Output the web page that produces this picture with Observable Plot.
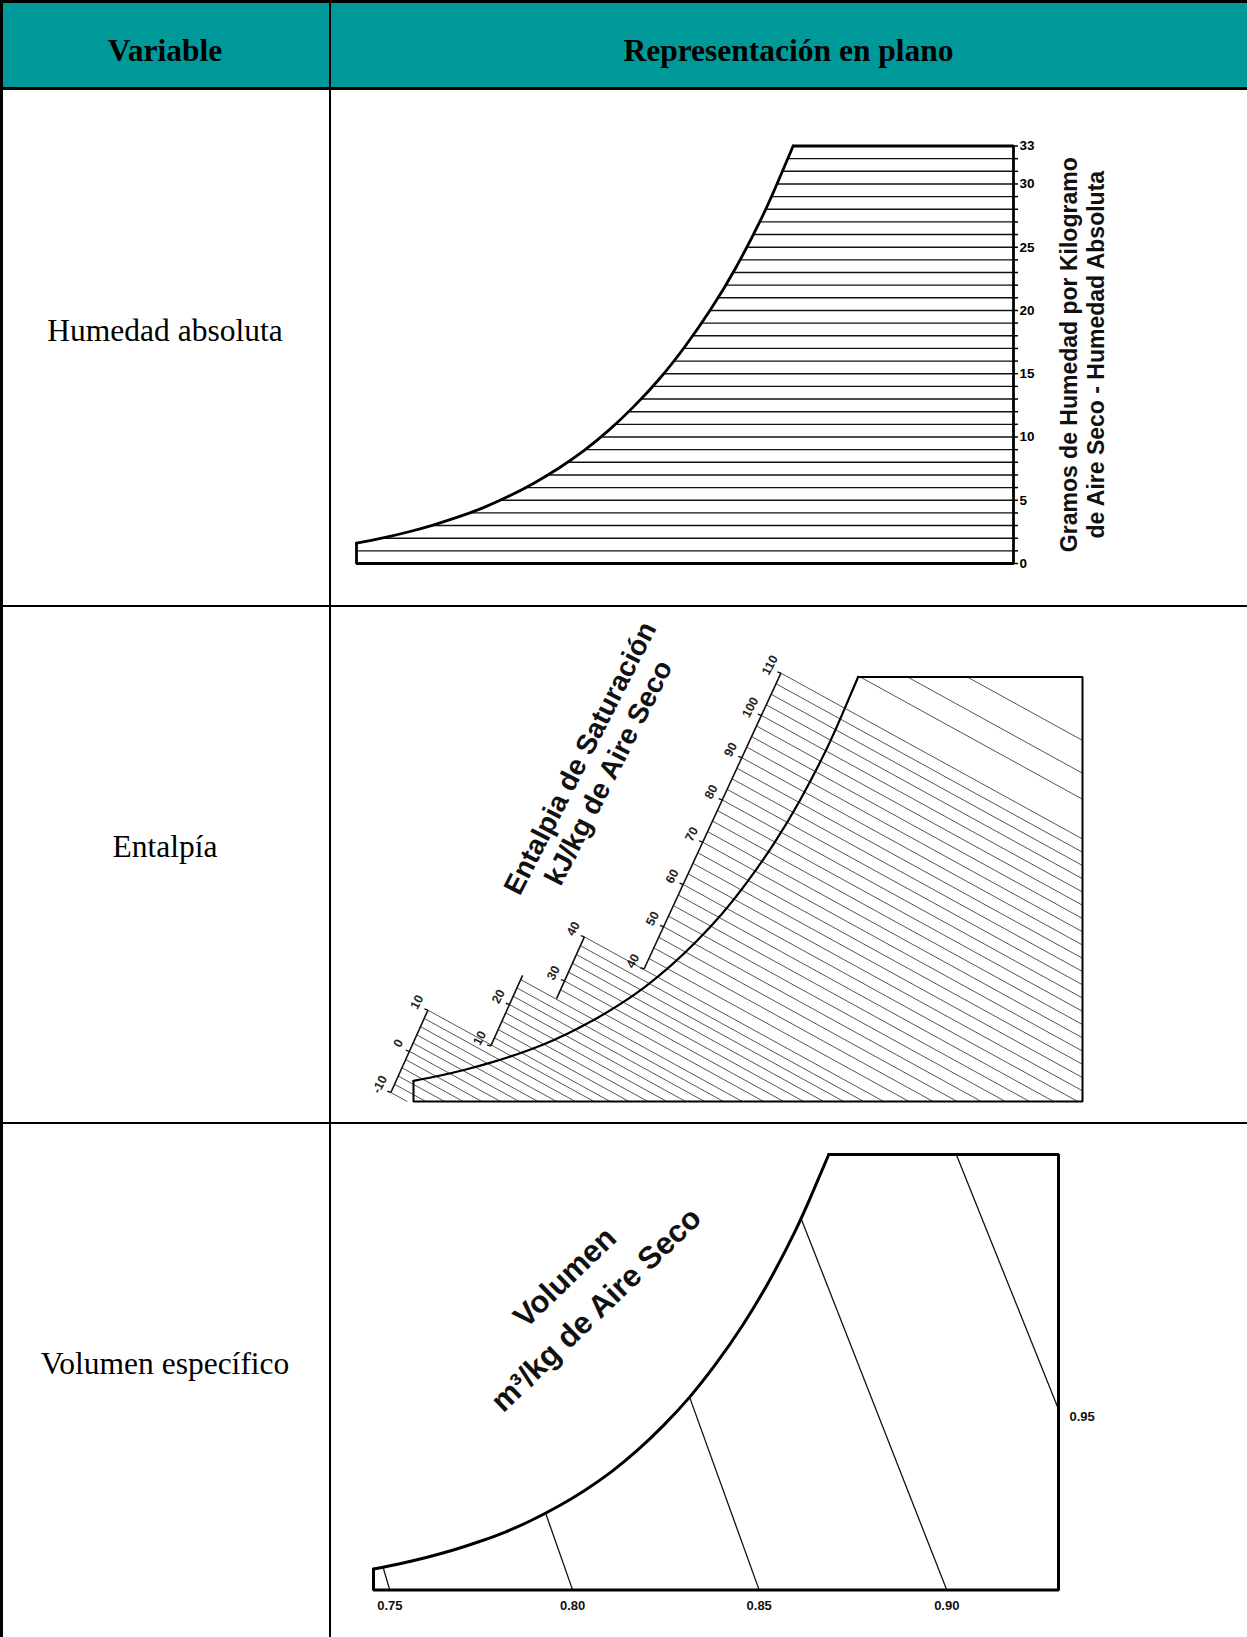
<!DOCTYPE html>
<html>
<head>
<meta charset="utf-8">
<script src="https://cdn.jsdelivr.net/npm/d3@7"></script>
<script src="https://cdn.jsdelivr.net/npm/@observablehq/plot@0.6"></script>
<style>
  html, body { margin: 0; padding: 0; background: #fff; }
  #page { position: relative; width: 1247px; height: 1637px; overflow: hidden; background: #fff; }
  .hdr { position: absolute; left: 0; top: 0; width: 1270px; height: 88px; background: #009999; }
  .hl { position: absolute; left: 0; width: 1270px; height: 2.7px; background: #000; }
  .vl { position: absolute; top: 0; width: 2.7px; height: 1637px; background: #000; }
  .txt { position: absolute; font-family: "Liberation Serif", "Times New Roman", serif; font-size: 31.5px; color: #000; text-align: center; height: 88px; line-height: 88px; white-space: nowrap; }
  .b { font-weight: bold; }
  .chart { position: absolute; left: 332px; width: 915px; }
</style>
</head>
<body>
<div id="page">
  <div class="hdr"></div>
  <div class="hl" style="top:0px"></div>
  <div class="hl" style="top:87px"></div>
  <div class="hl" style="top:604.7px"></div>
  <div class="hl" style="top:1121.5px"></div>
  <div class="vl" style="left:0px"></div>
  <div class="vl" style="left:328.7px"></div>

  <div class="txt b" style="left:0;width:330px;top:7px">Variable</div>
  <div class="txt b" style="left:330px;width:917px;top:7px">Representación en plano</div>
  <div class="txt" style="left:0;width:330px;top:287px">Humedad absoluta</div>
  <div class="txt" style="left:0;width:330px;top:803px">Entalpía</div>
  <div class="txt" style="left:0;width:330px;top:1320px">Volumen específico</div>

  <div class="chart" id="c1" style="top:90px"></div>
  <div class="chart" id="c2" style="top:608px"></div>
  <div class="chart" id="c3" style="top:1125px"></div>
</div>
<script>
// ---------- shared data: saturation curve (dry-bulb °C vs g/kg dry air) ----------
const satT = [-10, -7.5, -5, -2.5, 0, 2.5, 5, 7.5, 10, 12.5, 15, 17.5, 20, 22.5, 25, 27.5, 30, 31.6, 33.2];
const satW = [1.6, 2.0, 2.47, 3.02, 3.66, 4.40, 5.29, 6.33, 7.53, 8.92, 10.56, 12.46, 14.62, 17.15, 20.03, 23.34, 27.18, 30.0, 33.0];
// chart frame outline (left stub, bottom, right, top)
const outT = [-10, -10, 55, 55, 33.2];
const outW = [1.6, 0, 0, 33, 33];
const tDomain = [-10, 55];
const wDomain = [0, 33];

// ---------- chart 1: absolute humidity ----------
const humLines = [1,2,3,4,5,6,7,8,9,10,11,12,13,14,15,16,17,18,19,20,21,22,23,24,25,26,27,28,29,30,31,32];
const humTicks = [0,1,2,3,4,5,6,7,8,9,10,11,12,13,14,15,16,17,18,19,20,21,22,23,24,25,26,27,28,29,30,31,32,33];
const humLabels = [0, 5, 10, 15, 20, 25, 30, 33];
const humTitle = "Gramos de Humedad por Kilogramo\nde Aire Seco - Humedad Absoluta";

// ---------- chart 2: enthalpy ----------
const segH0 = [-10, 10, 26, 40];
const segH1 = [10, 27, 40, 110];
const segT0 = [-12.2, -2.5, 3.9, 12.4];
const segW0 = [0.7, 4.3, 8.0, 10.3];
const segT1 = [-8.6, 0.6, 6.6, 25.7];
const segW1 = [7.1, 9.8, 12.8, 33.3];
const enthSlope = -0.44; // g/kg per °C along an enthalpy line
const enthH = [-10,-8,-6,-4,-2,0,2,4,6,8,10,12,14,16,18,20,22,24,26,28,30,32,34,36,38,40,
  42.5,45,47.5,50,52.5,55,57.5,60,62.5,65,67.5,70,72.5,75,77.5,80,82.5,85,87.5,90,92.5,95,97.5,100,102.5,105,107.5,110];
const enthTopT = [33.4, 38.0, 43.8];
const enthLabelSeg = [0, 0, 0, 1, 1, 2, 2, 3, 3, 3, 3, 3, 3, 3, 3];
const enthLabelH = [-10, 0, 10, 10, 20, 30, 40, 40, 50, 60, 70, 80, 90, 100, 110];
const enthTitle = "Entalpia de Saturación\nkJ/kg de Aire Seco";

// ---------- chart 3: specific volume ----------
const volLabel = ["0.75", "0.80", "0.85", "0.90", "0.95"];
const volT1 = [-9.1, 6.3, 20.0, 30.6, 45.3];
const volW1 = [1.75, 5.9, 14.6, 28.1, 33];
const volT2 = [-8.45, 8.9, 26.6, 44.4, 55];
const volW2 = [0, 0, 0, 0, 13.7];
const volTitle = "Volumen\nm³/kg de Aire Seco";

const FONT = "'Liberation Sans', Arial, sans-serif";
const CURVE = "natural";
const sat = satT.map((t, i) => ({t, w: satW[i]}));
const outline = outT.map((t, i) => ({t, w: outW[i]}));

// ===== chart 1 =====
const c1 = Plot.plot({
  width: 915, height: 514,
  marginLeft: 24, marginRight: 234, marginTop: 55.5, marginBottom: 41,
  x: {domain: tDomain, axis: null},
  y: {domain: wDomain, axis: null},
  style: {fontFamily: FONT, fontWeight: "bold", background: "white"},
  marks: [
    Plot.ruleY(humLines, {x1: tDomain[0], x2: tDomain[1], stroke: "#111", strokeWidth: 1.4}),
    Plot.areaY(sat, {x: "t", y1: "w", y2: wDomain[1], fill: "white", curve: CURVE}),
    Plot.line(sat, {x: "t", y: "w", curve: CURVE, stroke: "#000", strokeWidth: 2.8}),
    Plot.line(outline, {x: "t", y: "w", stroke: "#000", strokeWidth: 2.8, strokeLinejoin: "miter"}),
    Plot.axisY({anchor: "right", label: null, ticks: humTicks, tickSize: 4, tickPadding: 2, strokeWidth: 1.5,
      tickFormat: d => humLabels.includes(d) ? String(d) : "", fontSize: 13.5, fontWeight: "bold", fill: "#000"}),
    Plot.text([humTitle], {text: d => d, frameAnchor: "right", textAnchor: "middle", lineAnchor: "middle",
      dx: 68.5, dy: 0, rotate: -90, fontSize: 23, fontWeight: "bold", lineHeight: 1.18, fill: "#111"})
  ]
});
document.getElementById("c1").appendChild(c1);

// ===== chart 2 =====
function segPoint(i, h) {
  const f = (h - segH0[i]) / (segH1[i] - segH0[i]);
  return [segT0[i] + f * (segT1[i] - segT0[i]), segW0[i] + f * (segW1[i] - segW0[i])];
}
function lineEnd(t, w) {
  const wr = w + enthSlope * (tDomain[1] - t);
  return wr >= 0 ? [tDomain[1], wr] : [t + w / (-enthSlope), 0];
}
const enthLines = enthH.map(h => {
  const i = segH0.findIndex((h0, k) => h >= h0 - 1e-6 && h <= segH1[k] + 1e-6);
  const [t1, w1] = segPoint(i, h);
  const [t2, w2] = lineEnd(t1, w1);
  return {t1, w1, t2, w2};
});
enthTopT.forEach(t => {
  const [t2, w2] = lineEnd(t, wDomain[1]);
  enthLines.push({t1: t, w1: wDomain[1], t2, w2});
});
const segs = segH0.map((h, i) => ({t1: segT0[i], w1: segW0[i], t2: segT1[i], w2: segW1[i]}));
const enthLabels = enthLabelH.map((h, k) => {
  const [t, w] = segPoint(enthLabelSeg[k], h);
  return {t, w, label: String(h)};
});

const c2 = Plot.plot({
  width: 915, height: 513,
  marginLeft: 81, marginRight: 165, marginTop: 68.5, marginBottom: 20,
  x: {domain: tDomain, axis: null},
  y: {domain: wDomain, axis: null},
  style: {fontFamily: FONT, fontWeight: "bold", background: "white"},
  marks: [
    Plot.link(enthLines, {x1: "t1", y1: "w1", x2: "t2", y2: "w2", stroke: "#555", strokeWidth: 1}),
    Plot.link(segs, {x1: "t1", y1: "w1", x2: "t2", y2: "w2", stroke: "#111", strokeWidth: 1.6}),
    Plot.link(enthLabels, {x1: "t", y1: "w", x2: d => d.t - 0.35, y2: d => d.w + 0.1, stroke: "#111", strokeWidth: 1.4}),
    Plot.text(enthLabels, {x: "t", y: "w", text: "label", rotate: -62, dx: -11, dy: -8,
      fontSize: 12.5, fontWeight: "bold", fill: "#222"}),
    Plot.line(sat, {x: "t", y: "w", curve: CURVE, stroke: "#000", strokeWidth: 2.2}),
    Plot.line(outline, {x: "t", y: "w", stroke: "#000", strokeWidth: 2, strokeLinejoin: "miter"}),
    Plot.text([enthTitle], {text: d => d, frameAnchor: "top-left", textAnchor: "middle", lineAnchor: "middle",
      dx: 180, dy: 88, rotate: -63, fontSize: 28, fontWeight: "bold", lineHeight: 1.14, fill: "#111"})
  ]
});
document.getElementById("c2").appendChild(c2);

// ===== chart 3 =====
const vol = volLabel.map((label, i) => ({label, t1: volT1[i], w1: volW1[i], t2: volT2[i], w2: volW2[i]}));
const c3 = Plot.plot({
  width: 915, height: 512,
  marginLeft: 41, marginRight: 189, marginTop: 29, marginBottom: 47.4,
  x: {domain: tDomain, axis: null},
  y: {domain: wDomain, axis: null},
  style: {fontFamily: FONT, fontWeight: "bold", background: "white"},
  marks: [
    Plot.link(vol, {x1: "t1", y1: "w1", x2: "t2", y2: "w2", stroke: "#111", strokeWidth: 1.3}),
    Plot.line(sat, {x: "t", y: "w", curve: CURVE, stroke: "#000", strokeWidth: 3}),
    Plot.line(outline, {x: "t", y: "w", stroke: "#000", strokeWidth: 3, strokeLinejoin: "miter"}),
    Plot.text(vol.filter(d => d.w2 === 0), {x: "t2", y: "w2", text: "label", dy: 16,
      fontSize: 13, fontWeight: "bold", fill: "#111"}),
    Plot.text(vol.filter(d => d.w2 > 0), {x: "t2", y: "w2", text: "label", dx: 11, dy: 8, textAnchor: "start",
      fontSize: 13, fontWeight: "bold", fill: "#111"}),
    Plot.text([volTitle], {text: d => d, frameAnchor: "top-left", textAnchor: "middle", lineAnchor: "middle",
      dx: 204, dy: 136, rotate: -44, fontSize: 31, fontWeight: "bold", lineHeight: 1.45, fill: "#111"})
  ]
});
document.getElementById("c3").appendChild(c3);
</script>
</body>
</html>
